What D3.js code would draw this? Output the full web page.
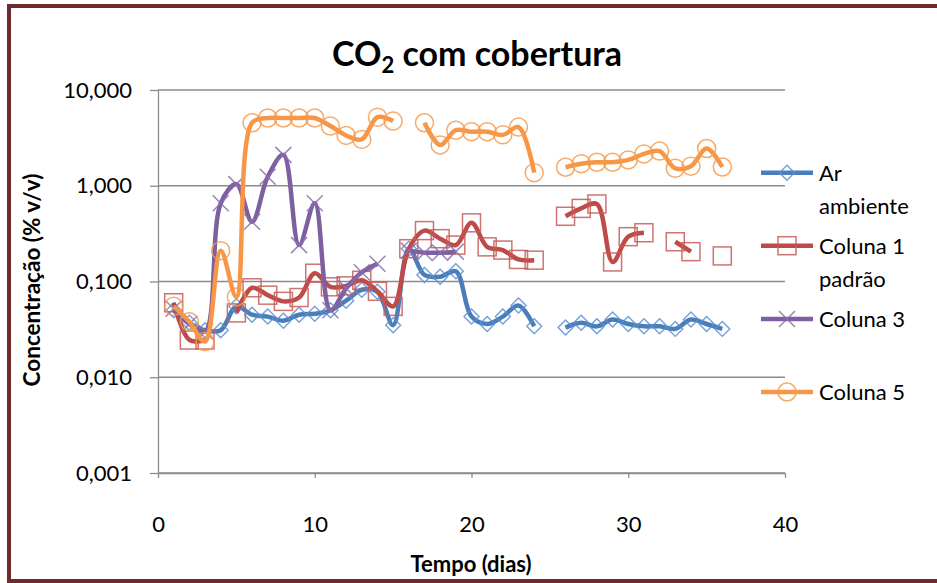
<!DOCTYPE html>
<html>
<head>
<meta charset="utf-8">
<script src="https://cdn.jsdelivr.net/npm/d3@7"></script>
<style>
  html, body { margin: 0; padding: 0; background: #ffffff; }
  svg { display: block; font-family: Lato, "Open Sans", sans-serif; }
</style>
</head>
<body>
<svg id="chart" width="937" height="583"></svg>
<script>
// Days of measurement
const days = d3.range(1, 37);

// CO2 concentration (% v/v) per day; null = no reading
const arAmbiente = [0.05, 0.037, 0.031, 0.031, 0.055, 0.045, 0.043, 0.039, 0.045, 0.046,
  0.05, 0.063, 0.082, 0.078, 0.035, 0.22, 0.117, 0.112, 0.128, 0.043,
  0.036, 0.043, 0.056, 0.034, null, 0.033, 0.037, 0.034, 0.04, 0.036,
  0.034, 0.034, 0.032, 0.04, 0.036, 0.032];

const coluna1 = [0.06, 0.0245, 0.0245, null, 0.047, 0.086, 0.072, 0.062, 0.068, 0.122,
  0.088, 0.09, 0.103, 0.079, 0.055, 0.22, 0.34, 0.28, 0.24, 0.41,
  0.23, 0.213, 0.17, 0.167, null, 0.48, 0.58, 0.645, 0.16, 0.294,
  0.323, null, 0.26, 0.205, null, 0.185];

const coluna3 = [0.052, 0.036, 0.03, 0.656, 1.04, 0.42, 1.24, 2.1, 0.24, 0.656,
  0.05, 0.085, 0.125, 0.153, null, 0.21, 0.2, 0.2, 0.205, null,
  null, null, null, null, null, null, null, null, null, null,
  null, null, null, null, null, null];

const coluna5 = [0.055, 0.038, 0.0236, 0.21, 0.069, 4.55, 5.1, 5.1, 5.1, 5.1,
  4.2, 3.35, 3.05, 5.2, 4.74, null, 4.55, 2.67, 3.8, 3.67,
  3.67, 3.4, 4.1, 1.37, null, 1.56, 1.7, 1.76, 1.76, 1.86,
  2.15, 2.3, 1.52, 1.6, 2.45, 1.57];

const seriesNames = ["Ar ambiente", "Coluna 1 padrão", "Coluna 3", "Coluna 5"];
const legendLines = [["Ar", "ambiente"], ["Coluna 1", "padrão"], ["Coluna 3"], ["Coluna 5"]];

const xTicks = [0, 10, 20, 30, 40];
const yTicks = [10, 1, 0.1, 0.01, 0.001];
const yTickLabels = ["10,000", "1,000", "0,100", "0,010", "0,001"];

const svg = d3.select("#chart");
const W = 937, H = 583;

svg.append("rect").attr("width", W).attr("height", H).attr("fill", "#ffffff");

// outer chart frame
svg.append("rect")
  .attr("x", 9).attr("y", 6).attr("width", 960).attr("height", 575)
  .attr("fill", "none").attr("stroke", "#6f2b2b").attr("stroke-width", 4);

const plot = { left: 158, right: 785, top: 90, bottom: 473 };

const x = d3.scaleLinear().domain([0, 40]).range([plot.left, plot.right]);
const y = d3.scaleLog().domain([0.001, 10]).range([plot.bottom, plot.top]);

// gridlines
svg.append("g").selectAll("line").data(yTicks).join("line")
  .attr("x1", plot.left).attr("x2", plot.right)
  .attr("y1", d => y(d)).attr("y2", d => y(d))
  .attr("stroke", "#8c8c8c").attr("stroke-width", 1.3);

// y axis
const yAxis = svg.append("g")
  .attr("transform", `translate(${plot.left},0)`)
  .call(d3.axisLeft(y).tickValues(yTicks)
    .tickFormat((d, i) => yTickLabels[i])
    .tickSizeInner(8).tickSizeOuter(0).tickPadding(18));
yAxis.select(".domain").attr("stroke", "#8c8c8c").attr("stroke-width", 1.3);
yAxis.selectAll(".tick line").attr("stroke", "#8c8c8c").attr("stroke-width", 1.3);
yAxis.selectAll(".tick text").attr("font-size", 22).attr("fill", "#000")
  .attr("font-family", "Lato, sans-serif");

// x axis
const xAxis = svg.append("g")
  .attr("transform", `translate(0,${plot.bottom})`)
  .call(d3.axisBottom(x).tickValues(xTicks).tickFormat(d3.format("d"))
    .tickSizeInner(5).tickSizeOuter(0).tickPadding(38));
xAxis.select(".domain").attr("stroke", "#8c8c8c").attr("stroke-width", 1.3);
xAxis.selectAll(".tick line").attr("stroke", "#8c8c8c").attr("stroke-width", 1.3);
xAxis.selectAll(".tick text").attr("font-size", 22).attr("fill", "#000")
  .attr("font-family", "Lato, sans-serif");

// title
const title = svg.append("text")
  .attr("x", 477).attr("y", 66)
  .attr("text-anchor", "middle")
  .attr("font-size", 34).attr("font-weight", "bold").attr("fill", "#000");
title.append("tspan").text("CO");
title.append("tspan").text("2").attr("font-size", 22).attr("dy", 7);
title.append("tspan").text(" com cobertura").attr("dy", -7);

// axis titles
svg.append("text")
  .attr("x", 471).attr("y", 572)
  .attr("text-anchor", "middle")
  .attr("font-size", 22).attr("font-weight", "bold").attr("fill", "#000")
  .text("Tempo (dias)");

svg.append("text")
  .attr("transform", "translate(40,280) rotate(-90)")
  .attr("text-anchor", "middle")
  .attr("font-size", 22.5).attr("font-weight", "bold").attr("fill", "#000")
  .text("Concentração (% v/v)");

// series
const series = [
  { name: seriesNames[0], values: arAmbiente, line: "#4a7ebb", mark: "#5a8fd2", marker: "diamond" },
  { name: seriesNames[1], values: coluna1, line: "#be4b48", mark: "#c55a57", marker: "square" },
  { name: seriesNames[2], values: coluna3, line: "#7d60a0", mark: "#8a6fad", marker: "cross" },
  { name: seriesNames[3], values: coluna5, line: "#f79646", mark: "#f79a4e", marker: "circle" }
];

function drawMarker(g, type, color) {
  if (type === "diamond") {
    g.append("path").attr("d", "M0,-7.5L7.5,0L0,7.5L-7.5,0Z")
      .attr("fill", "none").attr("stroke", color).attr("stroke-width", 1.4);
  } else if (type === "square") {
    g.append("rect").attr("x", -9).attr("y", -9).attr("width", 18).attr("height", 18)
      .attr("fill", "none").attr("stroke", color).attr("stroke-width", 1.5);
  } else if (type === "cross") {
    g.append("path").attr("d", "M-8,-8L8,8M-8,8L8,-8")
      .attr("fill", "none").attr("stroke", color).attr("stroke-width", 1.5);
  } else {
    g.append("circle").attr("r", 9)
      .attr("fill", "none").attr("stroke", color).attr("stroke-width", 1.5);
  }
}

const line = d3.line()
  .defined(d => d.v != null)
  .x(d => x(d.day))
  .y(d => y(d.v))
  .curve(d3.curveCatmullRom.alpha(0.5));

series.forEach(s => {
  const pts = days.map((day, i) => ({ day, v: s.values[i] }));
  const g = svg.append("g");
  g.append("path").datum(pts).attr("d", line)
    .attr("fill", "none").attr("stroke", s.line).attr("stroke-width", 4.5)
    .attr("stroke-linejoin", "round").attr("stroke-linecap", "butt");
  g.selectAll("g.m").data(pts.filter(p => p.v != null)).join("g")
    .attr("class", "m")
    .attr("transform", p => `translate(${x(p.day)},${y(p.v)})`)
    .attr("opacity", 0.85)
    .each(function () { drawMarker(d3.select(this), s.marker, s.mark); });
});

// legend
const legendRows = [172.7, 245.7, 319, 392];
series.forEach((s, i) => {
  const g = svg.append("g").attr("transform", `translate(0,${legendRows[i]})`);
  g.append("line").attr("x1", 761).attr("x2", 813).attr("y1", 0).attr("y2", 0)
    .attr("stroke", s.line).attr("stroke-width", 4.5);
  const m = g.append("g").attr("transform", "translate(787,0)").attr("opacity", 0.85);
  drawMarker(m, s.marker, s.mark);
  legendLines[i].forEach((t, k) => {
    g.append("text").attr("x", 819).attr("y", 8 + k * 33)
      .attr("font-size", 22).attr("fill", "#000").text(t);
  });
});
</script>
</body>
</html>
